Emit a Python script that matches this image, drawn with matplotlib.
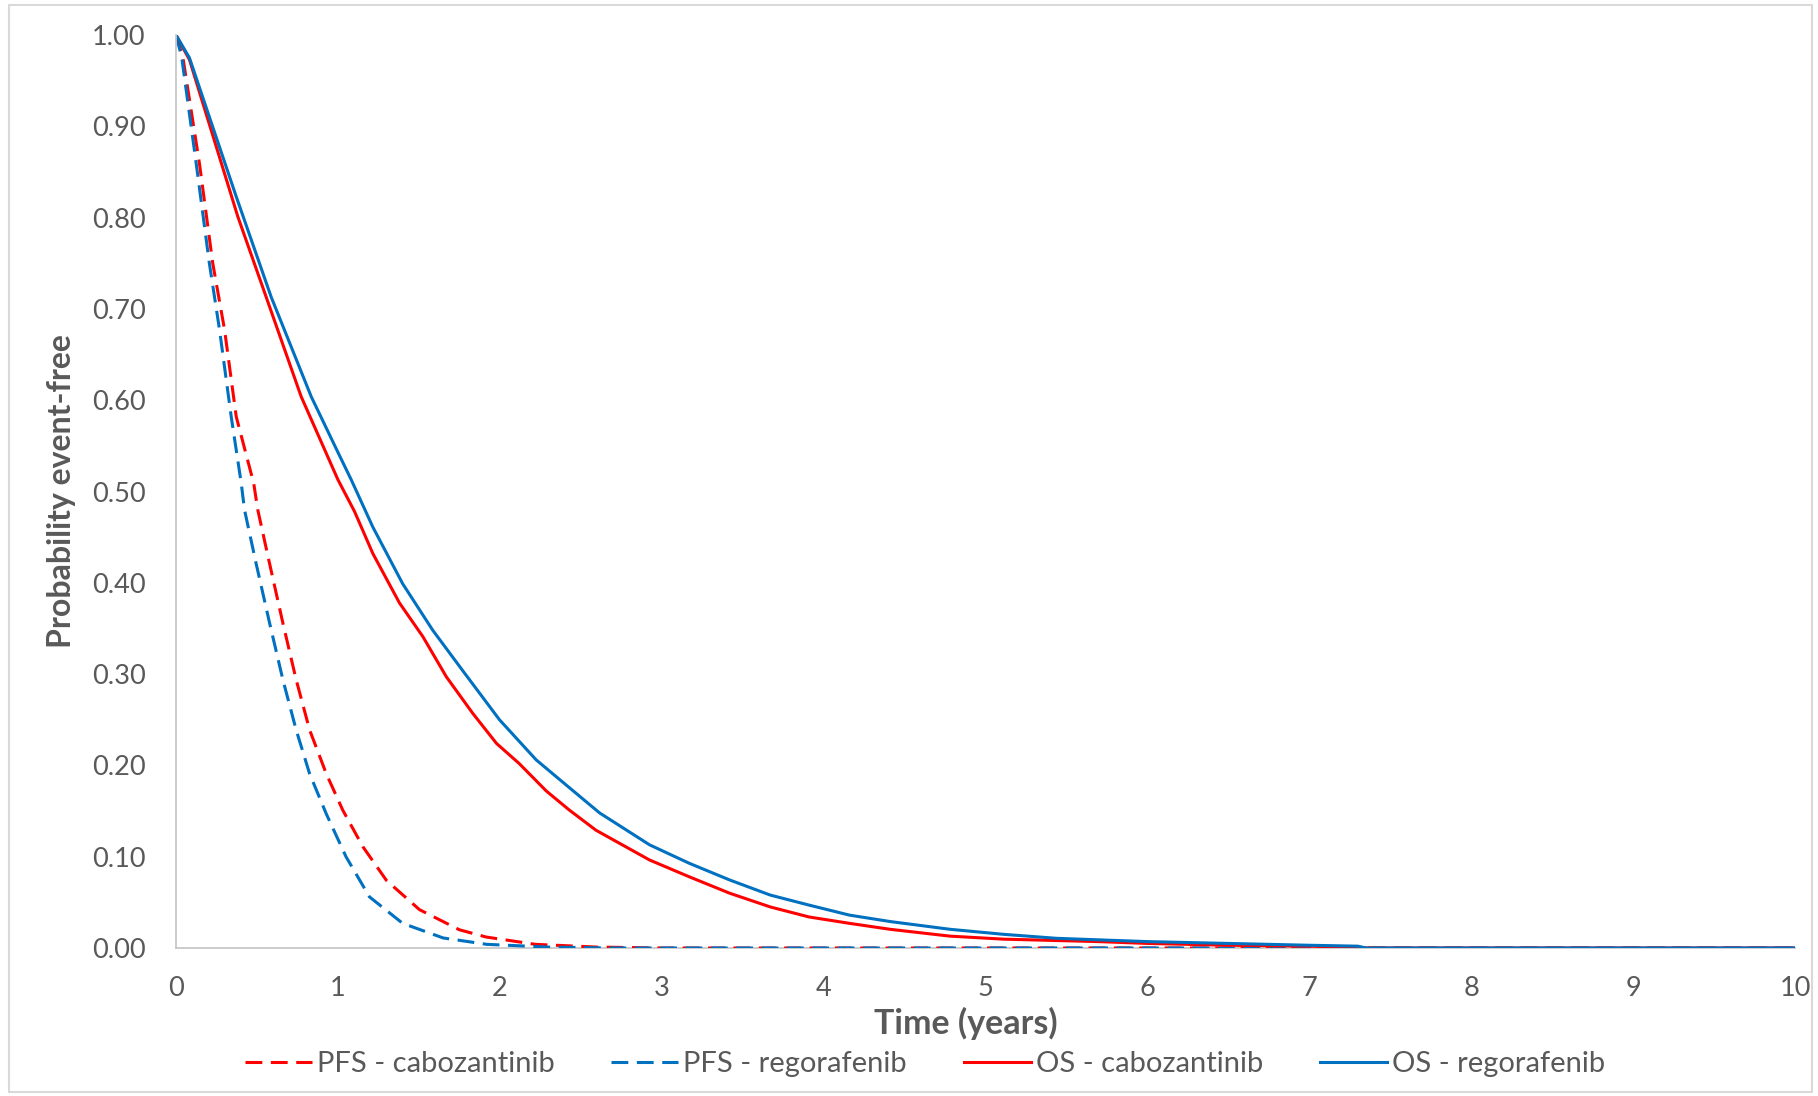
import matplotlib
matplotlib.use('Agg')
import matplotlib.pyplot as plt
from matplotlib.patches import Rectangle

# values (time in years, probability event-free)
pfs_cabo_t = [0, 0.042, 0.145, 0.227, 0.30, 0.372, 0.48, 0.505, 0.578, 0.66, 0.742, 0.825, 0.928,
              1.03, 1.154, 1.30, 1.504, 1.75, 1.916, 2.22, 2.6, 3.0, 10]
pfs_cabo_s = [1.0, 0.976, 0.859, 0.750, 0.677, 0.582, 0.509, 0.480, 0.421, 0.356, 0.294, 0.239, 0.191,
              0.151, 0.111, 0.074, 0.042, 0.020, 0.012, 0.004, 0.001, 0.0, 0.0]

pfs_rego_t = [0, 0.035, 0.125, 0.206, 0.269, 0.341, 0.403, 0.423, 0.495, 0.578, 0.66, 0.742, 0.825,
              0.928, 1.05, 1.195, 1.40, 1.65, 1.92, 2.3, 2.7, 10]
pfs_rego_s = [1.0, 0.976, 0.859, 0.750, 0.677, 0.582, 0.509, 0.480, 0.421, 0.356, 0.294, 0.239, 0.191,
              0.147, 0.100, 0.056, 0.027, 0.011, 0.004, 0.001, 0.0, 0.0]

os_cabo_t = [0, 0.083, 0.382, 0.557, 0.773, 1.0, 1.103, 1.216, 1.38, 1.525, 1.67, 1.833, 1.98, 2.12,
             2.287, 2.43, 2.594, 2.925, 3.17, 3.42, 3.67, 3.91, 4.16, 4.41, 4.78, 5.11, 5.70, 6.0,
             6.5, 7.0, 7.3, 7.35, 10]
os_cabo_s = [1.0, 0.973, 0.801, 0.713, 0.604, 0.513, 0.478, 0.432, 0.378, 0.341, 0.297, 0.257, 0.224,
             0.202, 0.172, 0.151, 0.129, 0.0964, 0.078, 0.060, 0.045, 0.034, 0.027, 0.0205, 0.013,
             0.0097, 0.007, 0.005, 0.003, 0.002, 0.001, 0.0, 0.0]

os_rego_t = [0, 0.083, 0.372, 0.588, 0.835, 1.0, 1.082, 1.216, 1.40, 1.586, 1.77, 1.998, 2.225, 2.373,
             2.616, 2.925, 3.17, 3.42, 3.67, 3.91, 4.16, 4.41, 4.78, 5.11, 5.44, 6.0, 6.5, 7.0, 7.3,
             7.35, 10]
os_rego_s = [1.0, 0.975, 0.823, 0.713, 0.604, 0.543, 0.513, 0.461, 0.399, 0.348, 0.304, 0.250, 0.206,
             0.184, 0.148, 0.113, 0.0928, 0.0745, 0.058, 0.047, 0.036, 0.029, 0.0205, 0.015, 0.0106,
             0.007, 0.005, 0.003, 0.002, 0.0, 0.0]

labels = ['PFS - cabozantinib', 'PFS - regorafenib', 'OS - cabozantinib', 'OS - regorafenib']
red = '#FF0000'
blue = '#0070C0'
grey_text = '#595959'

plt.rcParams['font.family'] = ['Lato', 'DejaVu Sans']

fig = plt.figure(figsize=(18.18, 10.96), dpi=100)
ax = fig.add_axes([176/1818, 1-948/1096, (1795-176)/1818, (948-35)/1096])

dash = (0, (5.5, 2.8))
ax.plot(pfs_cabo_t, pfs_cabo_s, color=red, lw=2.2, linestyle=dash, label=labels[0])
ax.plot(pfs_rego_t, pfs_rego_s, color=blue, lw=2.2, linestyle=dash, label=labels[1])
ax.plot(os_cabo_t, os_cabo_s, color=red, lw=2.2, label=labels[2])
ax.plot(os_rego_t, os_rego_s, color=blue, lw=2.2, label=labels[3])

ax.set_xlim(0, 10)
ax.set_ylim(0, 1)
ax.set_xticks(range(0, 11))
ax.set_yticks([i/10 for i in range(11)])
ax.set_yticklabels(['%.2f' % (i/10) for i in range(11)])
ax.tick_params(length=0, labelsize=19.5, labelcolor=grey_text)
ax.tick_params(axis='x', pad=20)
ax.tick_params(axis='y', pad=22)
for s in ['top', 'right']:
    ax.spines[s].set_visible(False)
for s in ['left', 'bottom']:
    ax.spines[s].set_color('#C8C8C8')
    ax.spines[s].set_linewidth(1.3)
ax.spines['bottom'].set_zorder(0)

ax.set_xlabel('Time (years)', fontsize=24.5, fontweight='bold', color=grey_text)
ax.xaxis.set_label_coords(0.488, -0.064)
ax.set_ylabel('Probability event-free', fontsize=23, fontweight='bold', color=grey_text, labelpad=11)

fig.legend(loc='center', bbox_to_anchor=(925/1818, 1-1064/1096), ncol=4, frameon=False,
           fontsize=21, labelcolor=grey_text, handlelength=2.3, handletextpad=0.17,
           columnspacing=1.95)

# light grey chart-area border
fig.patches.append(Rectangle((9/1818, 4/1096), (1812-9)/1818, (1091-4)/1096,
                             transform=fig.transFigure, fill=False, edgecolor='#D9D9D9', lw=1.5))

plt.savefig('out.png', dpi=100)
